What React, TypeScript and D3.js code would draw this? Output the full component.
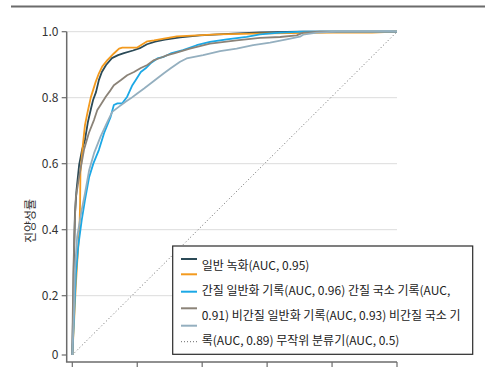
import React from "react";
import * as d3 from "d3";

type Pt = [number, number];

const seriesNames = ["일반 녹화", "간질 일반화 기록", "간질 국소 기록", "비간질 일반화 기록", "비간질 국소 기록"];
const seriesColors = ["#2b4a57", "#f39a1e", "#1ba8e6", "#8b8378", "#94afbf"];

const darkTeal: Pt[] = [
  [0, 0], [0.002, 0.118], [0.004, 0.217], [0.005, 0.308], [0.008, 0.445], [0.013, 0.52],
  [0.021, 0.596], [0.03, 0.642], [0.039, 0.672], [0.048, 0.726], [0.058, 0.769], [0.064, 0.793],
  [0.073, 0.817], [0.082, 0.854], [0.091, 0.878], [0.104, 0.899], [0.122, 0.92], [0.141, 0.929],
  [0.159, 0.935], [0.187, 0.943], [0.208, 0.95], [0.23, 0.962], [0.255, 0.97], [0.285, 0.976],
  [0.332, 0.983], [0.393, 0.989], [0.495, 0.994], [0.578, 0.998], [0.701, 1.0], [1, 1],
];
const orange: Pt[] = [
  [0, 0], [0.005, 0.101], [0.01, 0.217], [0.015, 0.299], [0.022, 0.399], [0.024, 0.481],
  [0.025, 0.572], [0.032, 0.652], [0.039, 0.717], [0.047, 0.756], [0.057, 0.801], [0.072, 0.848],
  [0.082, 0.874], [0.092, 0.894], [0.108, 0.914], [0.128, 0.934], [0.144, 0.949], [0.154, 0.952],
  [0.2, 0.952], [0.211, 0.959], [0.231, 0.971], [0.252, 0.974], [0.282, 0.979], [0.322, 0.986],
  [0.445, 0.992], [0.599, 0.995], [0.803, 0.997], [0.923, 0.997], [1, 1],
];
const blue: Pt[] = [
  [0, 0], [0.005, 0.118], [0.011, 0.263], [0.018, 0.348], [0.029, 0.429], [0.039, 0.49],
  [0.052, 0.56], [0.065, 0.601], [0.082, 0.642], [0.098, 0.693], [0.118, 0.742], [0.128, 0.778],
  [0.139, 0.783], [0.154, 0.783], [0.169, 0.803], [0.185, 0.838], [0.195, 0.853], [0.211, 0.878],
  [0.226, 0.889], [0.241, 0.904], [0.262, 0.919], [0.282, 0.924], [0.303, 0.934], [0.341, 0.944],
  [0.383, 0.959], [0.424, 0.969], [0.476, 0.977], [0.537, 0.984], [0.578, 0.992], [0.64, 0.997],
  [0.711, 1.0], [1, 1],
];
const grayBrown: Pt[] = [
  [0, 0], [0.001, 0.094], [0.003, 0.263], [0.006, 0.369], [0.009, 0.46], [0.011, 0.499],
  [0.021, 0.56], [0.036, 0.642], [0.051, 0.693], [0.067, 0.733], [0.077, 0.763], [0.087, 0.778],
  [0.103, 0.803], [0.118, 0.823], [0.128, 0.838], [0.149, 0.853], [0.169, 0.868], [0.19, 0.878],
  [0.211, 0.89], [0.231, 0.899], [0.252, 0.914], [0.272, 0.921], [0.293, 0.929], [0.313, 0.934],
  [0.362, 0.949], [0.424, 0.964], [0.506, 0.974], [0.578, 0.981], [0.64, 0.984], [0.691, 0.989],
  [0.711, 0.997], [0.763, 1.0], [1, 1],
];
const steel: Pt[] = [
  [0, 0], [0.005, 0.142], [0.008, 0.278], [0.015, 0.379], [0.029, 0.46], [0.039, 0.51],
  [0.052, 0.581], [0.067, 0.632], [0.087, 0.682], [0.108, 0.727], [0.123, 0.757], [0.144, 0.773],
  [0.164, 0.788], [0.18, 0.798], [0.2, 0.813], [0.221, 0.828], [0.241, 0.843], [0.262, 0.859],
  [0.282, 0.874], [0.303, 0.889], [0.332, 0.909], [0.352, 0.919], [0.403, 0.929], [0.455, 0.941],
  [0.506, 0.949], [0.557, 0.959], [0.609, 0.967], [0.66, 0.977], [0.701, 0.985], [0.711, 0.991],
  [0.753, 0.997], [0.814, 1.0], [1, 1],
];
const seriesData: Pt[][] = [darkTeal, orange, blue, grayBrown, steel];
const randomLine: Pt[] = [[0, 0], [1, 1]];

const yTicks = [0, 0.2, 0.4, 0.6, 0.8, 1.0];
const yTickLabels = ["0", "0.2", "0.4", "0.6", "0.8", "1.0"];
const xTicks = [0, 0.2, 0.4, 0.6, 0.8, 1.0];
const yTitle = "진양성률";
const legendLines = [
  "일반 녹화(AUC, 0.95)",
  "간질 일반화 기록(AUC, 0.96) 간질 국소 기록(AUC,",
  "0.91) 비간질 일반화 기록(AUC, 0.93) 비간질 국소 기",
  "록(AUC, 0.89) 무작위 분류기(AUC, 0.5)",
];

const FONT = "'Noto Sans CJK KR', 'Noto Sans', sans-serif";

export default function App() {
  const x = d3.scaleLinear().domain([0, 1]).range([72.3, 397]);
  const y = d3.scaleLinear().domain([0, 0.2, 1]).range([355, 295.7, 31.7]);
  const line = d3.line<Pt>().x((d) => x(d[0])).y((d) => y(d[1])).curve(d3.curveLinear);

  const axisX = 66.7;
  const axisBottom = 362;
  const swatchY = [259, 274.3, 291.7, 308.3, 325.7, 341.7];
  const legendBaselines = [269.5, 294.5, 319.5, 344.5];

  return (
    <svg
      width={493}
      height={382}
      style={{ position: "absolute", left: 0, top: 0, display: "block", background: "#fff" }}
      fontFamily={FONT}
    >
      <line x1={11} x2={485} y1={6.5} y2={6.5} stroke="#6b6b6b" strokeWidth={2} />

      {/* grid */}
      {yTicks.filter((t) => t > 0).map((t) => (
        <line key={"g" + t} x1={axisX} x2={x(1)} y1={y(t)} y2={y(t)} stroke="#dcdcdc" strokeWidth={1} />
      ))}

      {/* diagonal */}
      <path d={line(randomLine) || ""} fill="none" stroke="#6a6a6a" strokeWidth={1} strokeDasharray="1,2.4" />

      {/* curves */}
      {seriesData.map((s, i) => (
        <path key={"s" + i} d={line(s) || ""} fill="none" stroke={seriesColors[i]} strokeWidth={1.8} strokeLinejoin="round" />
      ))}

      {/* y axis */}
      <line x1={axisX} x2={axisX} y1={y(1)} y2={axisBottom} stroke="#6b6b6b" strokeWidth={1.5} />
      {yTicks.map((t, i) => (
        <g key={"yt" + t}>
          <line x1={axisX - 5} x2={axisX} y1={y(t)} y2={y(t)} stroke="#6b6b6b" strokeWidth={1.2} />
          <text x={58.5} y={y(t)} dy="0.35em" textAnchor="end" fontSize={12} fill="#333">
            {yTickLabels[i]}
          </text>
        </g>
      ))}
      <text
        transform={`translate(31,221) rotate(-90)`}
        textAnchor="middle"
        dy="0.35em"
        fontSize={12}
        fill="#333"
      >
        {yTitle}
      </text>

      {/* x axis */}
      <line x1={axisX - 0.75} x2={x(1)} y1={axisBottom} y2={axisBottom} stroke="#6b6b6b" strokeWidth={1.5} />
      {xTicks.map((t) => (
        <line key={"xt" + t} x1={x(t)} x2={x(t)} y1={axisBottom} y2={axisBottom + 5} stroke="#6b6b6b" strokeWidth={1.2} />
      ))}

      {/* legend */}
      <rect x={172.7} y={246} width={300} height={108.3} fill="#fff" stroke="#2a2a2a" strokeWidth={1.2} />
      {seriesColors.map((c, i) => (
        <line key={"sw" + i} x1={181} x2={197} y1={swatchY[i]} y2={swatchY[i]} stroke={c} strokeWidth={2} />
      ))}
      <line x1={181} x2={197} y1={swatchY[5]} y2={swatchY[5]} stroke="#6a6a6a" strokeWidth={1} strokeDasharray="1,2" />
      {legendLines.map((t, i) => (
        <text key={"lt" + i} x={201.7} y={legendBaselines[i]} fontSize={12} fill="#222">
          {t}
        </text>
      ))}
    </svg>
  );
}
